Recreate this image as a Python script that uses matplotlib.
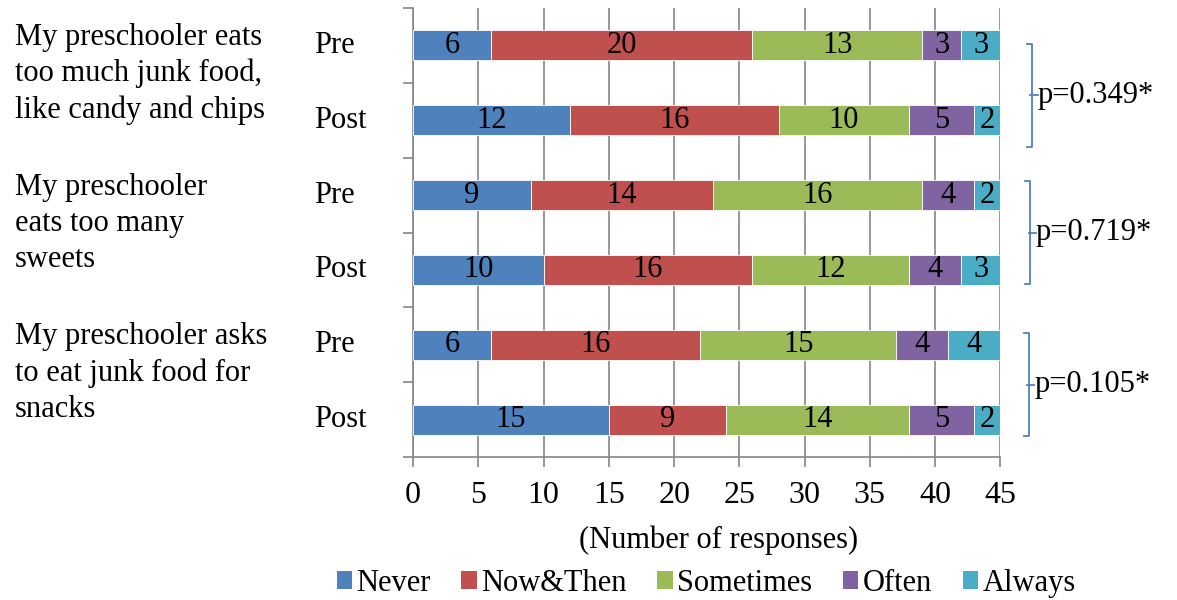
import numpy as np
import matplotlib.pyplot as plt
from matplotlib.patches import Patch
from matplotlib.ticker import MultipleLocator

plt.rcParams['font.family'] = ['Liberation Serif', 'DejaVu Serif']

questions = ['My preschooler eats\ntoo much junk food,\nlike candy and chips',
             'My preschooler\neats too many\nsweets',
             'My preschooler asks\nto eat junk food for\nsnacks']
row_labels = ['Pre', 'Post', 'Pre', 'Post', 'Pre', 'Post']
categories = ['Never', 'Now&Then', 'Sometimes', 'Often', 'Always']
colors = ['#4F81BD', '#C0504D', '#9BBB59', '#8064A2', '#4BACC6']

never = [6, 12, 9, 10, 6, 15]
now_then = [20, 16, 14, 16, 16, 9]
sometimes = [13, 10, 16, 12, 15, 14]
often = [3, 5, 4, 4, 4, 5]
always = [3, 2, 2, 3, 4, 2]
p_values = ['p=0.349*', 'p=0.719*', 'p=0.105*']

series = [never, now_then, sometimes, often, always]
fs = 22

fig = plt.figure(figsize=(11.77, 6), dpi=100)
ax = fig.add_axes([0.351, 0.238, 0.499, 0.749])

y = np.arange(len(row_labels))
left = np.zeros(len(row_labels))
for vals, col in zip(series, colors):
    vals = np.array(vals)
    ax.barh(y, vals, left=left, height=0.4, color=col, edgecolor='white',
            linewidth=0.6, zorder=3)
    for yi, l, v in zip(y, left, vals):
        ax.text(l + v / 2, yi, str(v), ha='center', va='center',
                fontsize=fs, zorder=4)
    left += vals

ax.set_xlim(0, 45)
ax.set_ylim(len(row_labels) - 0.5, -0.5)
ax.xaxis.set_major_locator(MultipleLocator(5))
ax.grid(axis='x', color='#868686', linewidth=1.2, zorder=0)
for s in ['top', 'right']:
    ax.spines[s].set_visible(False)
for s in ['left', 'bottom']:
    ax.spines[s].set_color('#868686')
    ax.spines[s].set_linewidth(1.2)

ax.set_yticks(np.arange(-0.5, len(row_labels)), labels=[])
ax.tick_params(axis='y', length=7, color='#868686', width=1.2)
ax.tick_params(axis='x', length=7, color='#868686', width=1.2,
               labelsize=23, pad=10)
ax.set_xlabel('(Number of responses)', fontsize=fs)
ax.xaxis.set_label_coords(0.52, -0.152)

# Pre / Post labels
for yi, lab in zip(y, row_labels):
    ax.text(-7.6, yi, lab, ha='left', va='center', fontsize=fs,
            clip_on=False)

# question labels
for i, q in enumerate(questions):
    ax.text(-30.5, 2 * i + 0.38, q, ha='left', va='center', fontsize=fs,
            linespacing=1.32, clip_on=False)

# brackets with p-values
br_color = '#4F81BD'
br_offset = [0.17, 0.0, 0.03]
br_x = [47.4, 47.25, 47.15]
for i, p in enumerate(p_values):
    c = 2 * i + 0.5 + br_offset[i]
    x0 = br_x[i]
    top, bot = c - 0.69, c + 0.69
    ax.plot([x0 - 0.35, x0, x0, x0 - 0.35], [top, top, bot, bot],
            color=br_color, lw=1.3, clip_on=False)
    ax.plot([x0 - 0.1, x0 + 0.45], [c, c], color=br_color, lw=1.3,
            clip_on=False)
    ax.text(x0 + 0.45, c, p, ha='left', va='center', fontsize=fs,
            clip_on=False)

handles = [Patch(facecolor=c, label=l) for c, l in zip(colors, categories)]
fig.legend(handles=handles, loc='center', bbox_to_anchor=(0.6, 0.028),
           ncol=5, frameon=False, fontsize=fs, handlelength=0.5,
           handleheight=0.5, handletextpad=0.15, columnspacing=1.0)

fig.savefig('out.png', dpi=100)
